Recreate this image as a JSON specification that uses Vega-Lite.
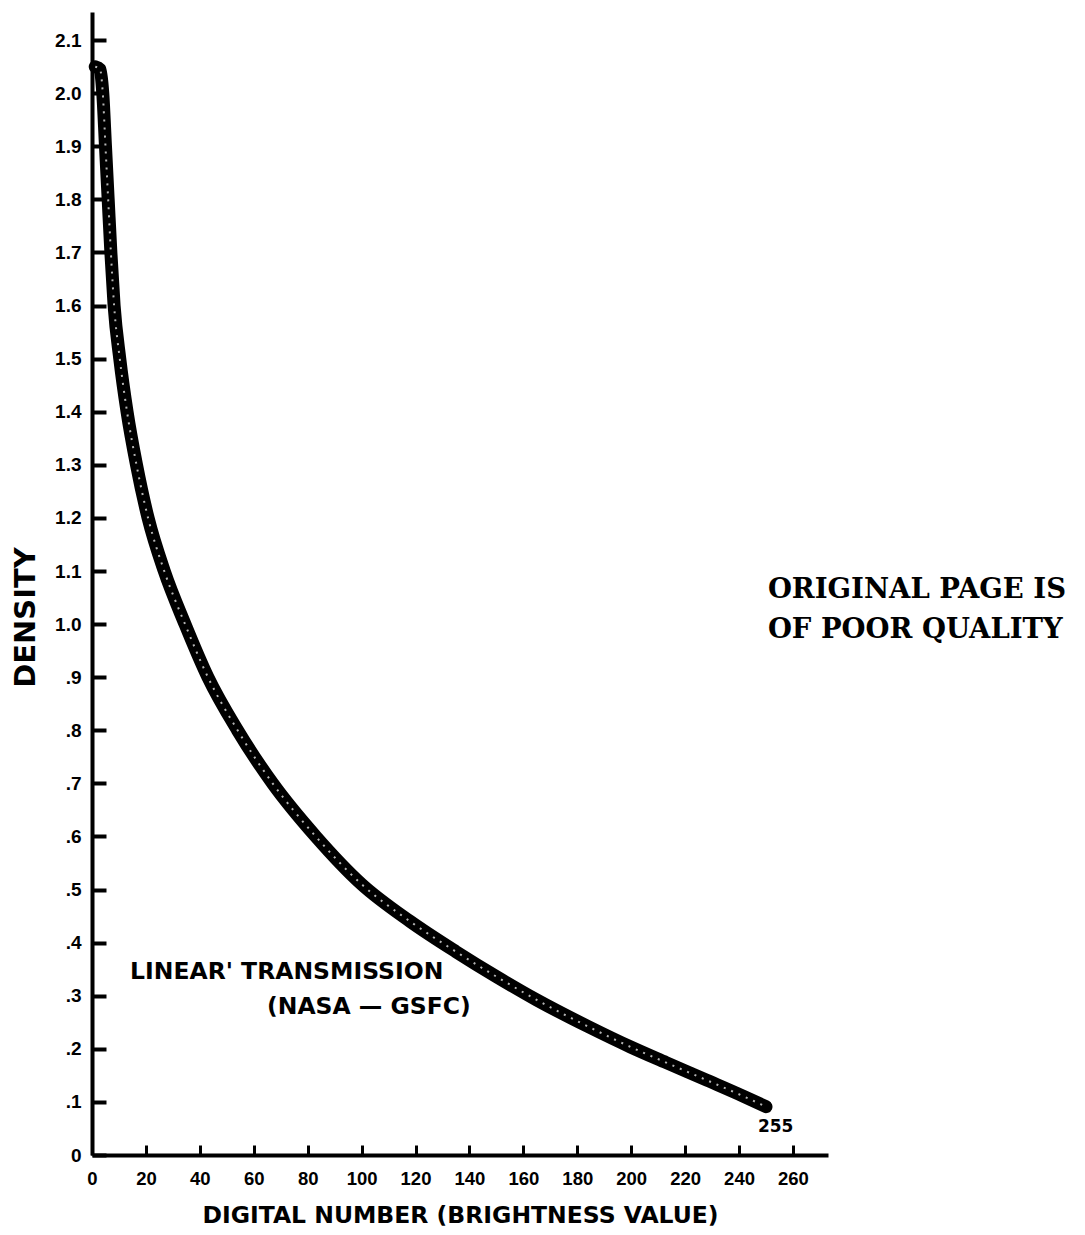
{
  "$schema": "https://vega.github.io/schema/vega-lite/v6.json",
  "width": 736,
  "height": 1143,
  "autosize": {"type": "none"},
  "padding": {"left": 92, "top": 12, "right": 257, "bottom": 80},
  "background": "white",
  "config": {"view": {"stroke": null}},
  "datasets": {
    "curve": [
      {"dn": 1.2, "density": 2.05},
      {"dn": 3.0, "density": 2.045},
      {"dn": 4.0, "density": 2.0},
      {"dn": 5.0, "density": 1.9},
      {"dn": 6.0, "density": 1.8},
      {"dn": 7.0, "density": 1.7},
      {"dn": 8.2, "density": 1.6},
      {"dn": 10.3, "density": 1.5},
      {"dn": 13.0, "density": 1.4},
      {"dn": 16.5, "density": 1.3},
      {"dn": 20.8, "density": 1.2},
      {"dn": 26.8, "density": 1.1},
      {"dn": 34.5, "density": 1.0},
      {"dn": 43.0, "density": 0.9},
      {"dn": 54.0, "density": 0.8},
      {"dn": 67.0, "density": 0.7},
      {"dn": 83.0, "density": 0.6},
      {"dn": 100.0, "density": 0.51},
      {"dn": 118.0, "density": 0.44},
      {"dn": 135.0, "density": 0.383},
      {"dn": 150.0, "density": 0.336},
      {"dn": 165.0, "density": 0.292},
      {"dn": 184.0, "density": 0.242},
      {"dn": 200.0, "density": 0.203},
      {"dn": 213.0, "density": 0.174},
      {"dn": 228.0, "density": 0.141},
      {"dn": 241.5, "density": 0.111},
      {"dn": 250.0, "density": 0.091}
    ],
    "notes": [
      {"dn": 14.1, "density": 0.345, "text": "LINEAR' TRANSMISSION"},
      {"dn": 64.9, "density": 0.279, "text": "(NASA — GSFC)"}
    ],
    "endlabel": [
      {"dn": 247, "density": 0.053, "text": "255"}
    ],
    "stamp": [
      {"dn": 250.7, "density": 1.065, "text": "ORIGINAL PAGE IS"},
      {"dn": 250.7, "density": 0.989, "text": "OF POOR QUALITY"}
    ]
  },
  "encoding": {
    "x": {
      "field": "dn",
      "type": "quantitative",
      "scale": {"domain": [0, 273], "nice": false, "zero": false},
      "axis": {
        "title": "DIGITAL NUMBER (BRIGHTNESS VALUE)",
        "values": [0, 20, 40, 60, 80, 100, 120, 140, 160, 180, 200, 220, 240, 260],
        "grid": false,
        "domainColor": "black",
        "domainWidth": 4,
        "tickColor": "black",
        "tickWidth": 3,
        "tickSize": -10,
        "labelPadding": 24,
        "labelFont": "Liberation Sans",
        "labelFontWeight": "bold",
        "labelFontSize": 18.5,
        "labelColor": "black",
        "labelFlush": false,
        "labelOverlap": false,
        "titleFont": "DejaVu Sans",
        "titleFontWeight": "bold",
        "titleFontSize": 23.5,
        "titleColor": "black",
        "titleBaseline": "middle",
        "titleY": 60
      }
    },
    "y": {
      "field": "density",
      "type": "quantitative",
      "scale": {"domain": [0, 2.153], "nice": false, "zero": false},
      "axis": {
        "title": "DENSITY",
        "values": [0, 0.1, 0.2, 0.3, 0.4, 0.5, 0.6, 0.7, 0.8, 0.9, 1.0, 1.1, 1.2, 1.3, 1.4, 1.5, 1.6, 1.7, 1.8, 1.9, 2.0, 2.1],
        "labelExpr": "datum.value == 0 ? '0' : (datum.value < 1 ? '.' + format(datum.value * 10, '.0f') : format(datum.value, '.1f'))",
        "grid": false,
        "domainColor": "black",
        "domainWidth": 4,
        "tickColor": "black",
        "tickWidth": 4,
        "tickSize": -14,
        "labelPadding": 25,
        "labelFont": "Liberation Sans",
        "labelFontWeight": "bold",
        "labelFontSize": 19,
        "labelColor": "black",
        "labelFlush": false,
        "labelOverlap": false,
        "titleFont": "DejaVu Sans",
        "titleFontWeight": "bold",
        "titleFontSize": 29,
        "titleColor": "black",
        "titleAngle": -90,
        "titleAlign": "center",
        "titleBaseline": "middle",
        "titleX": -67,
        "titleY": 605
      }
    }
  },
  "layer": [
    {
      "data": {"name": "curve"},
      "mark": {"type": "line", "color": "black", "strokeWidth": 13, "strokeCap": "round", "strokeJoin": "round", "interpolate": "monotone"}
    },
    {
      "data": {"name": "curve"},
      "mark": {"type": "line", "color": "white", "strokeWidth": 2, "strokeDash": [2, 6], "opacity": 0.7, "interpolate": "monotone"}
    },
    {
      "data": {"name": "notes"},
      "mark": {"type": "text", "align": "left", "baseline": "middle", "font": "DejaVu Sans", "fontWeight": "bold", "fontSize": 23.5, "color": "black"},
      "encoding": {"text": {"field": "text"}}
    },
    {
      "data": {"name": "endlabel"},
      "mark": {"type": "text", "align": "left", "baseline": "middle", "font": "DejaVu Sans", "fontWeight": "bold", "fontSize": 17, "color": "black"},
      "encoding": {"text": {"field": "text"}}
    },
    {
      "data": {"name": "stamp"},
      "mark": {"type": "text", "align": "left", "baseline": "middle", "font": "DejaVu Serif", "fontWeight": "bold", "fontSize": 27.5, "color": "black"},
      "encoding": {"text": {"field": "text"}}
    }
  ]
}
